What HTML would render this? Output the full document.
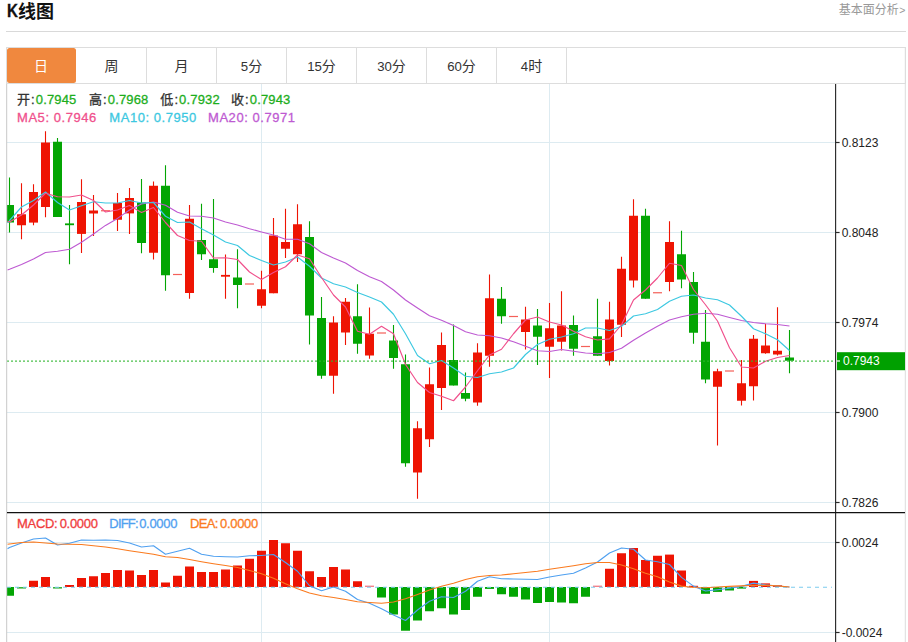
<!DOCTYPE html>
<html lang="zh-CN">
<head>
<meta charset="utf-8">
<title>K线图</title>
<style>
html,body{margin:0;padding:0;background:#fff;}
body{width:908px;height:642px;position:relative;overflow:hidden;font-family:"Liberation Sans","Noto Sans CJK SC",sans-serif;color:#333;}
#chart{position:absolute;left:0;top:0;}
.cj{font-family:"Liberation Sans","Noto Sans CJK SC",sans-serif;position:relative;white-space:nowrap;}
.abs{position:absolute;white-space:nowrap;line-height:20px;height:20px;}
.title{left:6.6px;top:1.8px;font-size:18px;font-weight:bold;color:#111;}
.title span{display:inline-block;transform:scaleX(0.84);transform-origin:0 50%;margin-right:-1.6px;position:relative;top:-1.3px;-webkit-text-stroke:0.35px #111;}
.more{right:2.6px;top:0.2px;font-size:12px;color:#999;}
.hr{position:absolute;left:6px;width:900px;top:31px;height:1px;background:#D9D9D9;}
.tabs{position:absolute;left:6px;top:47px;width:899.8px;height:36.6px;border:1px solid #DDD;box-sizing:border-box;}
.tab{position:absolute;top:48px;width:69px;height:34.6px;border-right:1px solid #DDD;text-align:center;font-size:14px;line-height:36.7px;white-space:nowrap;}
.tab.on{background:#F0883E;border-radius:2.5px;border-right:none;width:68.8px;margin-left:0.2px;}
.tab.on .cj{left:-0.7px;color:#fff;}
.tab span{font-size:13.2px;}
.lg{font-size:13px;-webkit-text-stroke:0.3px currentColor;}
.lg i{font-style:normal;color:#1CAE1C;letter-spacing:0.15px;}
.lg b{font-weight:normal;display:inline-block;width:5.8px;text-align:center;}
.l2{letter-spacing:0.55px;}
.ax{font-size:12px;color:#222;left:841.7px;}
.m span{display:inline-block;}
.m em{font-style:normal;letter-spacing:-0.3px;}
.more span{font-size:10.5px;position:relative;top:-0.2px;margin-left:0.6px;}
</style>
</head>
<body>
<svg id="chart" width="908" height="642" viewBox="0 0 908 642">
<defs><clipPath id="cp"><rect x="7" y="84" width="828" height="558"/></clipPath></defs>
<line x1="7" x2="835" y1="142.5" y2="142.5" stroke="#DDEBF1" stroke-width="1"/>
<line x1="7" x2="835" y1="232.5" y2="232.5" stroke="#DDEBF1" stroke-width="1"/>
<line x1="7" x2="835" y1="322.5" y2="322.5" stroke="#DDEBF1" stroke-width="1"/>
<line x1="7" x2="835" y1="412.5" y2="412.5" stroke="#DDEBF1" stroke-width="1"/>
<line x1="7" x2="835" y1="502.5" y2="502.5" stroke="#DDEBF1" stroke-width="1"/>
<line x1="7" x2="835" y1="542.5" y2="542.5" stroke="#DDEBF1" stroke-width="1"/>
<line x1="7" x2="835" y1="632.5" y2="632.5" stroke="#DDEBF1" stroke-width="1"/>
<line x1="261.5" x2="261.5" y1="84" y2="642" stroke="#DDEBF1" stroke-width="1"/>
<line x1="549.5" x2="549.5" y1="84" y2="642" stroke="#DDEBF1" stroke-width="1"/>
<g clip-path="url(#cp)">
<rect x="8.95" y="177.5" width="1.1" height="55" fill="#03A503"/>
<rect x="5" y="205" width="9" height="17.5" fill="#03A503"/>
<rect x="20.95" y="183.25" width="1.1" height="56" fill="#EE1403"/>
<rect x="17" y="214.25" width="9" height="11" fill="#EE1403"/>
<rect x="32.95" y="184.25" width="1.1" height="41" fill="#EE1403"/>
<rect x="29" y="192" width="9" height="30.6" fill="#EE1403"/>
<rect x="44.95" y="131.25" width="1.1" height="86" fill="#EE1403"/>
<rect x="41" y="142.5" width="9" height="64.5" fill="#EE1403"/>
<rect x="56.95" y="138" width="1.1" height="79" fill="#03A503"/>
<rect x="53" y="141.75" width="9" height="75.25" fill="#03A503"/>
<rect x="68.95" y="205" width="1.1" height="59.25" fill="#03A503"/>
<rect x="65" y="223.4" width="9" height="1.8" fill="#03A503"/>
<rect x="80.95" y="179.25" width="1.1" height="73.75" fill="#EE1403"/>
<rect x="77" y="202" width="9" height="31.9" fill="#EE1403"/>
<rect x="92.95" y="195" width="1.1" height="41" fill="#EE1403"/>
<rect x="89" y="210.5" width="9" height="3" fill="#EE1403"/>
<rect x="101" y="210.15" width="9" height="1.2" fill="#F4605A"/>
<rect x="116.95" y="193" width="1.1" height="38" fill="#EE1403"/>
<rect x="113" y="203" width="9" height="16.75" fill="#EE1403"/>
<rect x="128.95" y="188" width="1.1" height="46" fill="#EE1403"/>
<rect x="125" y="198" width="9" height="15.4" fill="#EE1403"/>
<rect x="140.95" y="179" width="1.1" height="74.25" fill="#03A503"/>
<rect x="137" y="202.5" width="9" height="40.5" fill="#03A503"/>
<rect x="152.95" y="181.5" width="1.1" height="78" fill="#EE1403"/>
<rect x="149" y="185.75" width="9" height="67" fill="#EE1403"/>
<rect x="164.95" y="165.25" width="1.1" height="125.5" fill="#03A503"/>
<rect x="161" y="185.75" width="9" height="89.5" fill="#03A503"/>
<rect x="173" y="273.9" width="9" height="1.2" fill="#F4605A"/>
<rect x="188.95" y="205" width="1.1" height="93.75" fill="#EE1403"/>
<rect x="185" y="218.75" width="9" height="74.25" fill="#EE1403"/>
<rect x="200.95" y="203.75" width="1.1" height="56.25" fill="#03A503"/>
<rect x="197" y="240" width="9" height="14.25" fill="#03A503"/>
<rect x="212.95" y="199" width="1.1" height="73.75" fill="#03A503"/>
<rect x="209" y="259.25" width="9" height="8.75" fill="#03A503"/>
<rect x="224.95" y="254.5" width="1.1" height="44.25" fill="#EE1403"/>
<rect x="221" y="274.9" width="9" height="1.8" fill="#EE1403"/>
<rect x="236.95" y="249.25" width="1.1" height="59" fill="#03A503"/>
<rect x="233" y="277.5" width="9" height="7.5" fill="#03A503"/>
<rect x="245" y="283.4" width="9" height="1.2" fill="#F4605A"/>
<rect x="260.95" y="270.75" width="1.1" height="37.5" fill="#EE1403"/>
<rect x="257" y="289.25" width="9" height="16.5" fill="#EE1403"/>
<rect x="272.95" y="218" width="1.1" height="75.25" fill="#EE1403"/>
<rect x="269" y="235.5" width="9" height="57.75" fill="#EE1403"/>
<rect x="284.95" y="208.75" width="1.1" height="49.25" fill="#EE1403"/>
<rect x="281" y="242" width="9" height="6.75" fill="#EE1403"/>
<rect x="296.95" y="204.25" width="1.1" height="57.75" fill="#EE1403"/>
<rect x="293" y="224.25" width="9" height="30" fill="#EE1403"/>
<rect x="308.95" y="221.25" width="1.1" height="123.25" fill="#03A503"/>
<rect x="305" y="237" width="9" height="78.5" fill="#03A503"/>
<rect x="320.95" y="297" width="1.1" height="81.75" fill="#03A503"/>
<rect x="317" y="318" width="9" height="57.75" fill="#03A503"/>
<rect x="332.95" y="316.25" width="1.1" height="77.5" fill="#EE1403"/>
<rect x="329" y="322.5" width="9" height="53.25" fill="#EE1403"/>
<rect x="344.95" y="298" width="1.1" height="47" fill="#EE1403"/>
<rect x="341" y="301.75" width="9" height="30.75" fill="#EE1403"/>
<rect x="356.95" y="284.25" width="1.1" height="69.5" fill="#03A503"/>
<rect x="353" y="316.25" width="9" height="27.5" fill="#03A503"/>
<rect x="368.95" y="307.5" width="1.1" height="51.25" fill="#EE1403"/>
<rect x="365" y="333.75" width="9" height="21.75" fill="#EE1403"/>
<rect x="377" y="332.4" width="9" height="1.2" fill="#F4605A"/>
<rect x="392.95" y="325" width="1.1" height="43.75" fill="#03A503"/>
<rect x="389" y="340.5" width="9" height="17.5" fill="#03A503"/>
<rect x="404.95" y="354.5" width="1.1" height="112.25" fill="#03A503"/>
<rect x="401" y="364.25" width="9" height="99" fill="#03A503"/>
<rect x="416.95" y="421.25" width="1.1" height="77.5" fill="#EE1403"/>
<rect x="413" y="428.25" width="9" height="44.25" fill="#EE1403"/>
<rect x="428.95" y="367.5" width="1.1" height="79.5" fill="#EE1403"/>
<rect x="425" y="384.25" width="9" height="55" fill="#EE1403"/>
<rect x="440.95" y="332.5" width="1.1" height="77.5" fill="#EE1403"/>
<rect x="437" y="345" width="9" height="43" fill="#EE1403"/>
<rect x="452.95" y="324.5" width="1.1" height="61" fill="#03A503"/>
<rect x="449" y="360" width="9" height="25.5" fill="#03A503"/>
<rect x="464.95" y="372.5" width="1.1" height="28.75" fill="#03A503"/>
<rect x="461" y="393" width="9" height="5.75" fill="#03A503"/>
<rect x="476.95" y="343.25" width="1.1" height="62.5" fill="#EE1403"/>
<rect x="473" y="352.5" width="9" height="50" fill="#EE1403"/>
<rect x="488.95" y="274.5" width="1.1" height="92.25" fill="#EE1403"/>
<rect x="485" y="298.25" width="9" height="57.5" fill="#EE1403"/>
<rect x="500.95" y="287" width="1.1" height="36.75" fill="#03A503"/>
<rect x="497" y="298.75" width="9" height="17.5" fill="#03A503"/>
<rect x="509" y="315.9" width="9" height="1.2" fill="#F4605A"/>
<rect x="524.95" y="306.75" width="1.1" height="42.75" fill="#EE1403"/>
<rect x="521" y="319.5" width="9" height="12.5" fill="#EE1403"/>
<rect x="536.95" y="309" width="1.1" height="56" fill="#03A503"/>
<rect x="533" y="325.5" width="9" height="11.25" fill="#03A503"/>
<rect x="548.95" y="303" width="1.1" height="75" fill="#EE1403"/>
<rect x="545" y="328.25" width="9" height="18.5" fill="#EE1403"/>
<rect x="560.95" y="291.25" width="1.1" height="59.25" fill="#EE1403"/>
<rect x="557" y="325.5" width="9" height="16.25" fill="#EE1403"/>
<rect x="572.95" y="315.5" width="1.1" height="40.25" fill="#03A503"/>
<rect x="569" y="325" width="9" height="23.75" fill="#03A503"/>
<rect x="581" y="345.9" width="9" height="1.2" fill="#F4605A"/>
<rect x="596.95" y="298.75" width="1.1" height="57" fill="#03A503"/>
<rect x="593" y="336.25" width="9" height="19.5" fill="#03A503"/>
<rect x="608.95" y="301.75" width="1.1" height="63.75" fill="#EE1403"/>
<rect x="605" y="319.5" width="9" height="41.5" fill="#EE1403"/>
<rect x="620.95" y="256.75" width="1.1" height="80.25" fill="#EE1403"/>
<rect x="617" y="268.75" width="9" height="56" fill="#EE1403"/>
<rect x="632.95" y="199.25" width="1.1" height="88.25" fill="#EE1403"/>
<rect x="629" y="215.75" width="9" height="64.75" fill="#EE1403"/>
<rect x="644.95" y="208.75" width="1.1" height="90" fill="#03A503"/>
<rect x="641" y="215.75" width="9" height="83" fill="#03A503"/>
<rect x="653" y="292.15" width="9" height="1.2" fill="#F4605A"/>
<rect x="668.95" y="221.25" width="1.1" height="70" fill="#EE1403"/>
<rect x="665" y="242" width="9" height="40" fill="#EE1403"/>
<rect x="680.95" y="230.75" width="1.1" height="57.5" fill="#03A503"/>
<rect x="677" y="254.25" width="9" height="25.25" fill="#03A503"/>
<rect x="692.95" y="272" width="1.1" height="71.75" fill="#03A503"/>
<rect x="689" y="282" width="9" height="50.75" fill="#03A503"/>
<rect x="704.95" y="310" width="1.1" height="73.25" fill="#03A503"/>
<rect x="701" y="341.75" width="9" height="37.75" fill="#03A503"/>
<rect x="716.95" y="368.75" width="1.1" height="76.75" fill="#EE1403"/>
<rect x="713" y="371.25" width="9" height="15.5" fill="#EE1403"/>
<rect x="725" y="370.4" width="9" height="1.2" fill="#F4605A"/>
<rect x="740.95" y="360" width="1.1" height="45.5" fill="#EE1403"/>
<rect x="737" y="383.25" width="9" height="17.5" fill="#EE1403"/>
<rect x="752.95" y="335" width="1.1" height="65.5" fill="#EE1403"/>
<rect x="749" y="338.75" width="9" height="47.5" fill="#EE1403"/>
<rect x="764.95" y="323.75" width="1.1" height="30" fill="#EE1403"/>
<rect x="761" y="345.5" width="9" height="7.75" fill="#EE1403"/>
<rect x="776.95" y="307.25" width="1.1" height="48.25" fill="#EE1403"/>
<rect x="773" y="350.75" width="9" height="3.75" fill="#EE1403"/>
<rect x="788.95" y="330" width="1.1" height="43.25" fill="#03A503"/>
<rect x="785" y="357.5" width="9" height="3.25" fill="#03A503"/>
<rect x="5" y="587" width="9" height="8.75" fill="#03A503"/>
<rect x="17" y="587" width="9" height="1.6" fill="#3CB43C"/>
<rect x="29" y="580.75" width="9" height="6.25" fill="#EE1403"/>
<rect x="41" y="577" width="9" height="10" fill="#EE1403"/>
<rect x="53" y="587" width="9" height="1.6" fill="#3CB43C"/>
<rect x="65" y="585" width="9" height="2" fill="#EE1403"/>
<rect x="77" y="578" width="9" height="9" fill="#EE1403"/>
<rect x="89" y="576.25" width="9" height="10.75" fill="#EE1403"/>
<rect x="101" y="573" width="9" height="14" fill="#EE1403"/>
<rect x="113" y="570" width="9" height="17" fill="#EE1403"/>
<rect x="125" y="570.5" width="9" height="16.5" fill="#EE1403"/>
<rect x="137" y="575" width="9" height="12" fill="#EE1403"/>
<rect x="149" y="570" width="9" height="17" fill="#EE1403"/>
<rect x="161" y="582.5" width="9" height="4.5" fill="#EE1403"/>
<rect x="173" y="575.75" width="9" height="11.25" fill="#EE1403"/>
<rect x="185" y="566.5" width="9" height="20.5" fill="#EE1403"/>
<rect x="197" y="572" width="9" height="15" fill="#EE1403"/>
<rect x="209" y="572" width="9" height="15" fill="#EE1403"/>
<rect x="221" y="569.5" width="9" height="17.5" fill="#EE1403"/>
<rect x="233" y="565.5" width="9" height="21.5" fill="#EE1403"/>
<rect x="245" y="558.75" width="9" height="28.25" fill="#EE1403"/>
<rect x="257" y="550.75" width="9" height="36.25" fill="#EE1403"/>
<rect x="269" y="540" width="9" height="47" fill="#EE1403"/>
<rect x="281" y="543.25" width="9" height="43.75" fill="#EE1403"/>
<rect x="293" y="550.75" width="9" height="36.25" fill="#EE1403"/>
<rect x="305" y="571.25" width="9" height="15.75" fill="#EE1403"/>
<rect x="317" y="577" width="9" height="10" fill="#EE1403"/>
<rect x="329" y="567" width="9" height="20" fill="#EE1403"/>
<rect x="341" y="569.5" width="9" height="17.5" fill="#EE1403"/>
<rect x="353" y="581.25" width="9" height="5.75" fill="#EE1403"/>
<rect x="365" y="585.6" width="9" height="1.4" fill="#F4808A"/>
<rect x="377" y="587" width="9" height="10.5" fill="#03A503"/>
<rect x="389" y="587" width="9" height="27.5" fill="#03A503"/>
<rect x="401" y="587" width="9" height="43.75" fill="#03A503"/>
<rect x="413" y="587" width="9" height="33.5" fill="#03A503"/>
<rect x="425" y="587" width="9" height="24.25" fill="#03A503"/>
<rect x="437" y="587" width="9" height="21.25" fill="#03A503"/>
<rect x="449" y="587" width="9" height="27.5" fill="#03A503"/>
<rect x="461" y="587" width="9" height="23" fill="#03A503"/>
<rect x="473" y="587" width="9" height="9.75" fill="#03A503"/>
<rect x="485" y="587" width="9" height="1.9" fill="#03A503"/>
<rect x="497" y="587" width="9" height="7.25" fill="#03A503"/>
<rect x="509" y="587" width="9" height="9.75" fill="#03A503"/>
<rect x="521" y="587" width="9" height="12.5" fill="#03A503"/>
<rect x="533" y="587" width="9" height="16" fill="#03A503"/>
<rect x="545" y="587" width="9" height="15" fill="#03A503"/>
<rect x="557" y="587" width="9" height="15.5" fill="#03A503"/>
<rect x="569" y="587" width="9" height="16.25" fill="#03A503"/>
<rect x="581" y="587" width="9" height="9.75" fill="#03A503"/>
<rect x="593" y="585.6" width="9" height="1.4" fill="#F4808A"/>
<rect x="605" y="568.75" width="9" height="18.25" fill="#EE1403"/>
<rect x="617" y="553.25" width="9" height="33.75" fill="#EE1403"/>
<rect x="629" y="548" width="9" height="39" fill="#EE1403"/>
<rect x="641" y="560" width="9" height="27" fill="#EE1403"/>
<rect x="653" y="555.75" width="9" height="31.25" fill="#EE1403"/>
<rect x="665" y="554.6" width="9" height="32.4" fill="#EE1403"/>
<rect x="677" y="570.5" width="9" height="16.5" fill="#EE1403"/>
<rect x="689" y="585.8" width="9" height="1.2" fill="#EE1403"/>
<rect x="701" y="587" width="9" height="6.8" fill="#03A503"/>
<rect x="713" y="587" width="9" height="4.9" fill="#03A503"/>
<rect x="725" y="587" width="9" height="3.5" fill="#03A503"/>
<rect x="737" y="587" width="9" height="1.6" fill="#03A503"/>
<rect x="749" y="580.9" width="9" height="6.1" fill="#EE1403"/>
<rect x="761" y="583.4" width="9" height="3.6" fill="#EE1403"/>
<rect x="773" y="585.3" width="9" height="1.7" fill="#EE1403"/>
<line x1="7" x2="832" y1="587.2" y2="587.2" stroke="#7CCBEE" stroke-width="1.15" stroke-dasharray="4 4"/>
<polyline fill="none" stroke="#BE5AD2" stroke-width="1.15" stroke-linejoin="round" points="7.5,270 9.5,269.3 21.5,264.5 33.5,259 45.5,252.5 57.5,251.25 69.5,249.25 81.5,242.25 93.5,234 105.5,225.4 117.5,218.4 129.5,210 141.5,204 153.5,202 165.5,205.25 177.5,212.25 189.5,216 201.5,216.25 213.5,218 225.5,222 237.5,225 249.5,228.75 261.5,232 273.5,235 285.5,239.25 297.5,239.25 309.5,243.75 321.5,252.5 333.5,258 345.5,263 357.5,270.5 369.5,276.75 381.5,281.5 393.5,290 405.5,300 417.5,308 429.5,315.75 441.5,320.25 453.5,325.5 465.5,331.75 477.5,335 489.5,335.75 501.5,338 513.5,341.75 525.5,346.25 537.5,350.75 549.5,351.5 561.5,349.5 573.5,351.25 585.5,353 597.5,353.75 609.5,352.5 621.5,348.25 633.5,340.25 645.5,333 657.5,326.25 669.5,320 681.5,316.75 693.5,314.25 705.5,313.25 717.5,314.25 729.5,317.5 741.5,320.5 753.5,322.5 765.5,323.75 777.5,324.5 789.5,326"/>
<polyline fill="none" stroke="#3CC8E1" stroke-width="1.15" stroke-linejoin="round" points="7.5,223 9.5,220.5 21.5,207 33.5,200.5 45.5,192 57.5,202.5 69.5,210 81.5,205.75 93.5,201.75 105.5,203 117.5,203 129.5,200.5 141.5,203 153.5,202.5 165.5,216.25 177.5,222.5 189.5,222 201.5,228.75 213.5,235 225.5,242 237.5,245.5 249.5,255.5 261.5,260.5 273.5,265 285.5,262 297.5,257 309.5,266.25 321.5,278 333.5,283.75 345.5,287 357.5,292.5 369.5,297 381.5,302 393.5,314.25 405.5,333.75 417.5,355.5 429.5,363.75 441.5,360.5 453.5,368 465.5,376.25 477.5,377.5 489.5,373.75 501.5,372 513.5,368 525.5,354.5 537.5,344.5 549.5,339.25 561.5,337 573.5,333.75 585.5,328 597.5,328 609.5,330.5 621.5,326.25 633.5,316 645.5,313.75 657.5,309.5 669.5,301.25 681.5,296.25 693.5,295 705.5,298 717.5,299.75 729.5,305 741.5,316.25 753.5,328.75 765.5,333.75 777.5,339.75 789.5,350.5"/>
<polyline fill="none" stroke="#F0508C" stroke-width="1.15" stroke-linejoin="round" points="7.5,221.25 9.5,222 21.5,215 33.5,205 45.5,193.25 57.5,196.75 69.5,197 81.5,195 93.5,200.5 105.5,212 117.5,210 129.5,205.5 141.5,212.5 153.5,207.5 165.5,222.5 177.5,235.5 189.5,240.5 201.5,241.25 213.5,258 225.5,257.75 237.5,259.5 249.5,272 261.5,279.5 273.5,272.5 285.5,266.75 297.5,255 309.5,258.75 321.5,277.5 333.5,295 345.5,307 357.5,331.25 369.5,334.25 381.5,326.25 393.5,333.75 405.5,364.5 417.5,382.5 429.5,392.5 441.5,396.25 453.5,400.75 465.5,387 477.5,370.75 489.5,355 501.5,349.25 513.5,333.75 525.5,320 537.5,317 549.5,322 561.5,325 573.5,331.25 585.5,336.75 597.5,340 609.5,338.9 621.5,324.75 633.5,300 645.5,290 657.5,278 669.5,263.25 681.5,265.5 693.5,289.5 705.5,304.75 717.5,321 729.5,347.75 741.5,367 753.5,368 765.5,361.25 777.5,357.5 789.5,355.5"/>
<polyline fill="none" stroke="#4FA0F0" stroke-width="1.15" stroke-linejoin="round" points="7.5,548.75 9.5,547.5 21.5,543 33.5,539 45.5,538 57.5,545 69.5,543.25 81.5,540 93.5,540.25 105.5,540 117.5,540.5 129.5,543 141.5,547 153.5,545.75 165.5,554.25 177.5,551.25 189.5,548.25 201.5,554.25 213.5,556.25 225.5,556.75 237.5,557 249.5,555.75 261.5,555.5 273.5,554.5 285.5,562.5 297.5,571.25 309.5,585.75 321.5,590.75 333.5,587 345.5,591.25 357.5,599.5 369.5,603.25 381.5,608.75 393.5,615 405.5,620.5 417.5,610 429.5,601.25 441.5,596.75 453.5,597.5 465.5,591.25 477.5,581.25 489.5,576.75 501.5,578.75 513.5,579 525.5,579.25 537.5,579.5 549.5,577 561.5,575 573.5,573.25 585.5,568 597.5,562 609.5,553 621.5,548 633.5,549.25 645.5,560 657.5,561.75 669.5,564.5 681.5,577.4 693.5,586.1 705.5,591 717.5,589.7 729.5,588.3 741.5,586.4 753.5,583.1 765.5,584.8 777.5,586.1 789.5,587"/>
<polyline fill="none" stroke="#FA7A1E" stroke-width="1.15" stroke-linejoin="round" points="7.5,544.25 9.5,544 21.5,542.5 33.5,542 45.5,543 57.5,544 69.5,544.25 81.5,544.5 93.5,545.75 105.5,547 117.5,548.75 129.5,550.75 141.5,552.5 153.5,554.25 165.5,556.75 177.5,557.5 189.5,559.5 201.5,561.75 213.5,563.75 225.5,565.5 237.5,567.5 249.5,570.5 261.5,573.75 273.5,578.25 285.5,583.75 297.5,588.75 309.5,593 321.5,595.75 333.5,597.5 345.5,599.5 357.5,601.75 369.5,602.5 381.5,603.25 393.5,602 405.5,598.75 417.5,594.5 429.5,590 441.5,586.25 453.5,583.25 465.5,579.5 477.5,576.75 489.5,575.5 501.5,575 513.5,573.75 525.5,572.5 537.5,571.25 549.5,569.25 561.5,567.5 573.5,565.75 585.5,563.75 597.5,562.5 609.5,562.5 621.5,565 633.5,568.75 645.5,573.25 657.5,576.75 669.5,582 681.5,586.1 693.5,587.5 705.5,587.8 717.5,587 729.5,586.4 741.5,585.9 753.5,585.3 765.5,585.3 777.5,585.9 789.5,587"/>
</g>
<line x1="7" x2="835" y1="361.15" y2="361.15" stroke="#2DB52D" stroke-width="1.3" stroke-dasharray="2 2" stroke-opacity="0.85"/>
<line x1="6.7" x2="6.7" y1="83" y2="642" stroke="#C8C8C8" stroke-width="1"/>
<line x1="905.3" x2="905.3" y1="47" y2="642" stroke="#DDDDDD" stroke-width="1"/>
<line x1="835.6" x2="835.6" y1="84" y2="642" stroke="#2B2B2B" stroke-width="1.15"/>
<line x1="7" x2="905" y1="512.6" y2="512.6" stroke="#111" stroke-width="1.4"/>
<line x1="835.6" x2="839.6" y1="142.5" y2="142.5" stroke="#2B2B2B" stroke-width="1.2"/>
<line x1="835.6" x2="839.6" y1="232.5" y2="232.5" stroke="#2B2B2B" stroke-width="1.2"/>
<line x1="835.6" x2="839.6" y1="322.5" y2="322.5" stroke="#2B2B2B" stroke-width="1.2"/>
<line x1="835.6" x2="839.6" y1="412.5" y2="412.5" stroke="#2B2B2B" stroke-width="1.2"/>
<line x1="835.6" x2="839.6" y1="502.5" y2="502.5" stroke="#2B2B2B" stroke-width="1.2"/>
<line x1="835.6" x2="839.6" y1="542.5" y2="542.5" stroke="#2B2B2B" stroke-width="1.2"/>
<line x1="835.6" x2="839.6" y1="632.5" y2="632.5" stroke="#2B2B2B" stroke-width="1.2"/>
<rect x="837" y="352.2" width="68" height="18" fill="#00A000"/>
<line x1="837" x2="840" y1="361" y2="361" stroke="#fff" stroke-width="1.2"/>
</svg>
<div class="abs title"><span>K</span><bdi class="cj">线图</bdi></div>
<div class="abs more"><bdi class="cj">基本面分析</bdi><span>&gt;</span></div>
<div class="hr"></div>
<div class="tabs"></div>
<div class="tab on" style="left:7px"><bdi class="cj">日</bdi></div>
<div class="tab" style="left:77px"><bdi class="cj">周</bdi></div>
<div class="tab" style="left:147px"><bdi class="cj">月</bdi></div>
<div class="tab" style="left:217px"><span>5</span><bdi class="cj">分</bdi></div>
<div class="tab" style="left:287px"><span>15</span><bdi class="cj">分</bdi></div>
<div class="tab" style="left:357px"><span>30</span><bdi class="cj">分</bdi></div>
<div class="tab" style="left:427px"><span>60</span><bdi class="cj">分</bdi></div>
<div class="tab" style="left:497px"><span>4</span><bdi class="cj">时</bdi></div>
<div class="abs lg l1" style="left:17px;top:90.3px"><bdi class="cj" style="top:-0.5px;">开</bdi><b>:</b><i>0.7945</i></div>
<div class="abs lg l1" style="left:89px;top:90.3px"><bdi class="cj" style="top:-0.5px;">高</bdi><b>:</b><i>0.7968</i></div>
<div class="abs lg l1" style="left:160.3px;top:90.3px"><bdi class="cj" style="top:-0.5px;">低</bdi><b>:</b><i>0.7932</i></div>
<div class="abs lg l1" style="left:231px;top:90.3px"><bdi class="cj" style="top:-0.5px;">收</bdi><b>:</b><i>0.7943</i></div>
<div class="abs lg l2" style="left:17px;top:107.9px;color:#F0508C">MA5: 0.7946</div>
<div class="abs lg l2" style="left:109.3px;top:107.9px;color:#3CC8E1">MA10: 0.7950</div>
<div class="abs lg l2" style="left:208.0px;top:107.9px;color:#BE5AD2">MA20: 0.7971</div>
<div class="abs lg m" style="left:17px;top:514.2px;color:#F03C3C"><span style="width:42.7px;letter-spacing:-0.3px">MACD:</span><em>0.0000</em></div>
<div class="abs lg m" style="left:109.3px;top:514.2px;color:#4FA0F0"><span style="width:29.9px;letter-spacing:-0.8px">DIFF:</span><em>0.0000</em></div>
<div class="abs lg m" style="left:190px;top:514.2px;color:#FA7A1E"><span style="width:30px;letter-spacing:-0.7px">DEA:</span><em>0.0000</em></div>
<div class="abs ax" style="top:132.6px">0.8123</div>
<div class="abs ax" style="top:222.6px">0.8048</div>
<div class="abs ax" style="top:312.6px">0.7974</div>
<div class="abs ax" style="top:351.2px;color:#fff;left:843px">0.7943</div>
<div class="abs ax" style="top:402.6px">0.7900</div>
<div class="abs ax" style="top:492.6px">0.7826</div>
<div class="abs ax" style="top:532.6px">0.0024</div>
<div class="abs ax" style="top:622.6px">-0.0024</div>
</body>

</html>
